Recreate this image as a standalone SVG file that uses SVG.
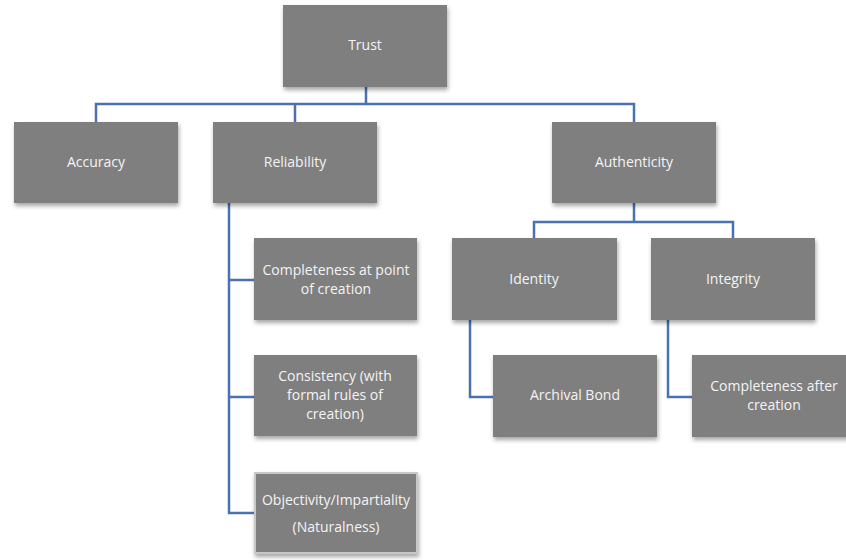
<svg xmlns="http://www.w3.org/2000/svg" width="846" height="560" viewBox="0 0 846 560">
<style>
.box{fill:#7f7f7f;filter:url(#sh)}
.t{font-family:"Open Sans","Liberation Sans",sans-serif;font-size:14px;fill:#f4f4f4;text-anchor:middle}
.c{fill:none;stroke:#4a72b0;stroke-width:2.5}
</style>
<defs>
<filter id="sh" x="-10%" y="-10%" width="125%" height="130%">
<feDropShadow dx="1" dy="3" stdDeviation="2" flood-color="#000" flood-opacity="0.35"/>
</filter>
</defs>
<rect width="846" height="560" fill="#fff"/>
<g id="connectors">
<path class="c" d="M366 87V104M96 122V104H634V122M295 104V122"/>
<path class="c" d="M634 203V222M534 238V222H733V238"/>
<path class="c" d="M229 203V513H255M229 280H254M229 397H254"/>
<path class="c" d="M470 320V397H493"/>
<path class="c" d="M668 320V397H692"/>
</g>
<g id="trust"><rect class="box" x="283" y="5" width="164" height="82"/><text class="t" x="365" y="50">Trust</text></g>
<g id="accuracy"><rect class="box" x="14" y="122" width="164" height="81"/><text class="t" x="96" y="167">Accuracy</text></g>
<g id="reliability"><rect class="box" x="213" y="122" width="164" height="81"/><text class="t" x="295" y="167">Reliability</text></g>
<g id="authenticity"><rect class="box" x="552" y="122" width="164" height="81"/><text class="t" x="634" y="167">Authenticity</text></g>
<g id="identity"><rect class="box" x="452" y="238" width="165" height="82"/><text class="t" x="534" y="284">Identity</text></g>
<g id="integrity"><rect class="box" x="651" y="238" width="164" height="82"/><text class="t" x="733" y="284">Integrity</text></g>
<g id="completeness"><rect class="box" x="254" y="238" width="163" height="82"/><text class="t" x="336" y="275">Completeness at point</text><text class="t" x="336" y="294">of creation</text></g>
<g id="consistency"><rect class="box" x="254" y="355" width="163" height="81"/><text class="t" x="335" y="381">Consistency (with</text><text class="t" x="335" y="400">formal rules of</text><text class="t" x="335" y="419">creation)</text></g>
<g id="objectivity"><rect class="box" x="255" y="473" width="162" height="80" stroke="#c8c8c8" stroke-width="2"/><text class="t" x="336" y="505">Objectivity/Impartiality</text><text class="t" x="336" y="532">(Naturalness)</text></g>
<g id="archival"><rect class="box" x="493" y="355" width="164" height="82"/><text class="t" x="575" y="400">Archival Bond</text></g>
<g id="completeness-after"><rect class="box" x="692" y="355" width="164" height="82"/><text class="t" x="774" y="391">Completeness after</text><text class="t" x="774" y="410">creation</text></g>
</svg>
